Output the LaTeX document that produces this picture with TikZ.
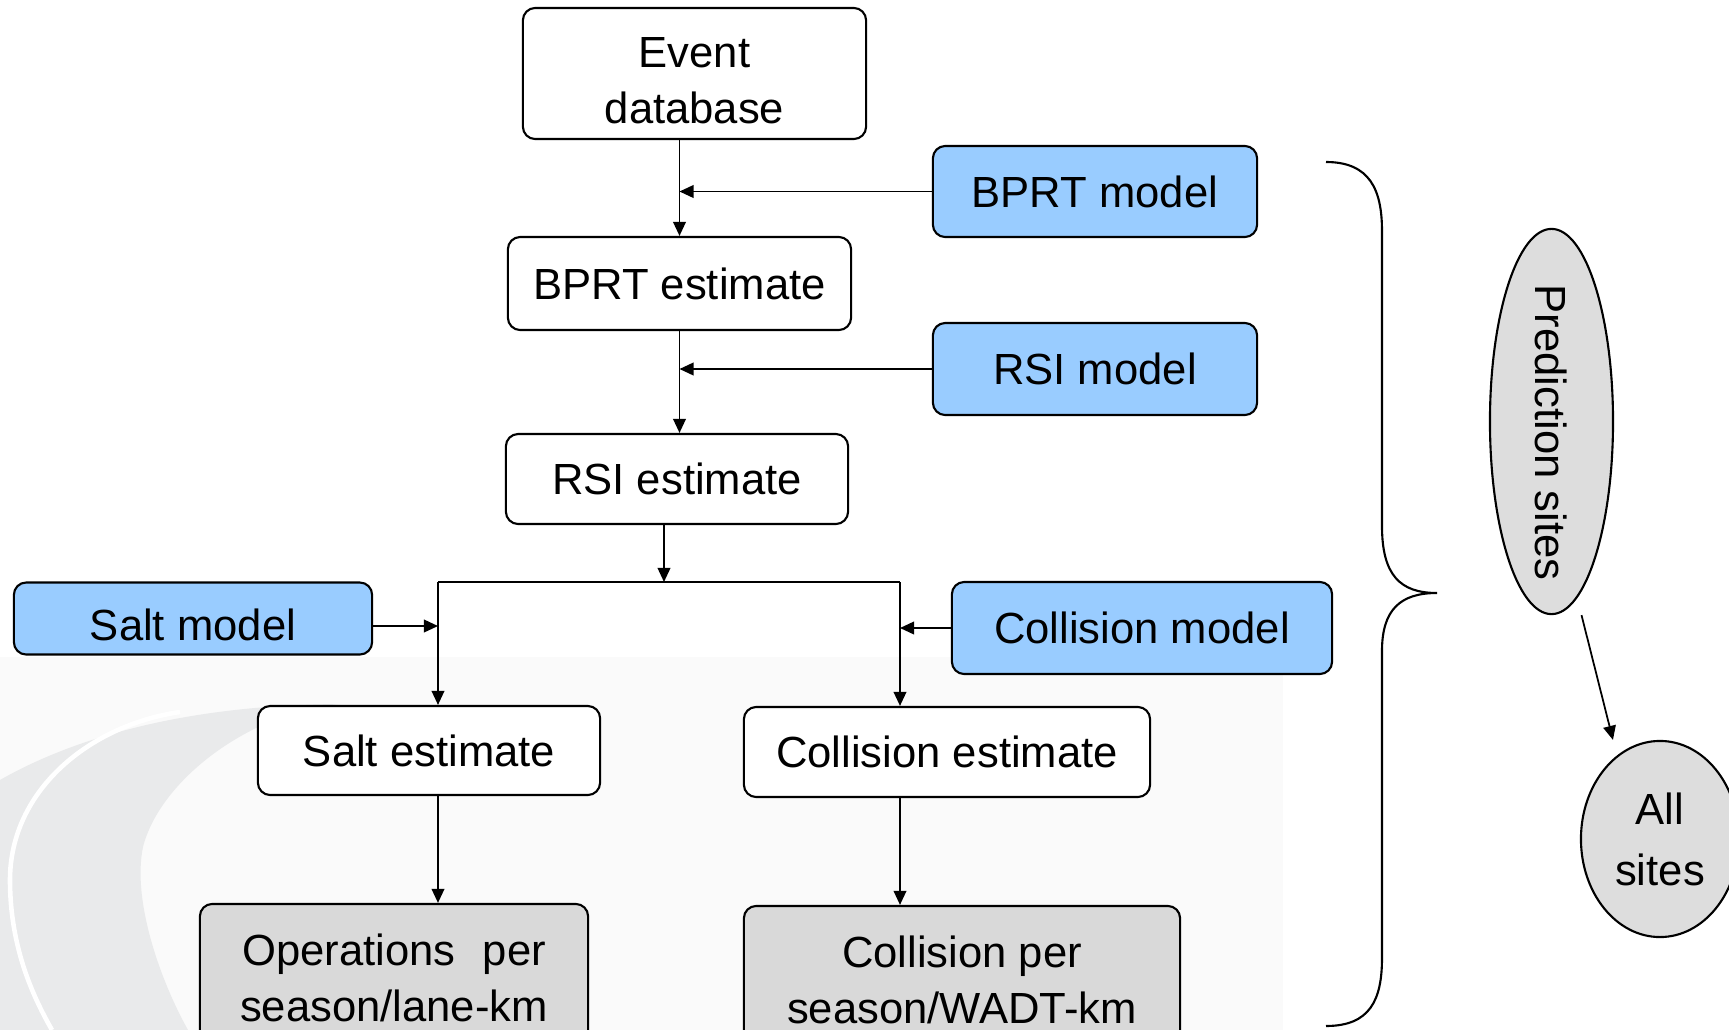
\documentclass[tikz,border=0pt]{standalone}
\usepackage{fontspec}
\setmainfont{Liberation Sans}
\usetikzlibrary{shapes.geometric,arrows.meta}
\definecolor{modelblue}{RGB}{153,204,255}
\definecolor{outgrey}{RGB}{217,217,217}
\definecolor{sitegrey}{RGB}{221,221,221}
\definecolor{swooshgrey}{RGB}{233,234,235}
\definecolor{panelgrey}{RGB}{250,250,250}
% invisible strut that lifts the top of a node's text block
\newcommand\tgap[1]{\rule{0pt}{#1}}
\begin{document}
\begin{tikzpicture}[x=0.01cm,y=-0.01cm,
  every node/.style={font=\fontsize{12.4}{16}\selectfont, align=center, inner sep=0pt},
  box/.style={draw, line width=0.6pt, rounded corners=3.5pt, fill=white},
  model/.style={box, fill=modelblue},
  result/.style={box, fill=outgrey},
  site/.style={ellipse, draw, line width=0.6pt, fill=sitegrey},
  link/.style={line width=0.5pt},
  arr/.style={link, -{Triangle[length=4pt,width=3.6pt]}}]

\useasboundingbox (0,0) rectangle (1729,1030);
\clip (0,0) rectangle (1729,1030);
\fill[white] (0,0) rectangle (1729,1030);

% pale backdrop with the road swoosh
\fill[panelgrey] (0,657) rectangle (1283,1030);
\fill[swooshgrey] (0,780) .. controls (70,740) and (180,705) .. (340,704)
  .. controls (250,712) and (160,780) .. (143,847)
  .. controls (132,900) and (160,980) .. (188,1030) -- (0,1030) -- cycle;
\draw[white, line width=1.3pt] (180,712) .. controls (90,725) and (10,790) .. (10,880)
  .. controls (10,950) and (35,1000) .. (52,1030);

% main chain
\node[box, minimum width=3.43cm, minimum height=1.31cm] (evt) at (694.5,73.5) {\tgap{0.445cm}Event\\database};
\node[model, minimum width=3.24cm, minimum height=0.91cm] (bprtmod) at (1095,191.5) {BPRT model};
\node[box, minimum width=3.43cm, minimum height=0.93cm] (bprtest) at (679.5,283.5) {BPRT estimate};
\node[model, minimum width=3.24cm, minimum height=0.92cm] (rsimod) at (1095,369) {RSI model};
\node[box, minimum width=3.42cm, minimum height=0.90cm] (rsiest) at (677,479) {RSI estimate};

% branches
\node[model, minimum width=3.58cm, minimum height=0.72cm] (saltmod) at (193,618.5) {\tgap{0.45cm}Salt model};
\node[model, minimum width=3.80cm, minimum height=0.92cm] (colmod) at (1142,628) {Collision model};
\node[box, minimum width=3.42cm, minimum height=0.89cm] (saltest) at (429,750.5) {Salt estimate};
\node[box, minimum width=4.06cm, minimum height=0.90cm] (colest) at (947,752) {Collision estimate};
\node[result, minimum width=3.88cm, minimum height=1.48cm] (ops) at (394,978) {Operations\hspace{0.35em} per\\season/lane-km};
\node[result, minimum width=4.36cm, minimum height=1.48cm] (colper) at (962,980) {Collision per\\season/WADT-km};

% sites (labels in zero-width boxes so the ellipses keep their set size)
\node[site, minimum width=3.85cm, minimum height=1.23cm, rotate=-90] (pred) at (1551.5,421.5) {\makebox[0pt]{\hspace{0.22cm}Prediction sites}};
\node[site, minimum width=1.58cm, minimum height=1.96cm] (all) at (1660,839) {\makebox[0pt]{\shortstack{All\\[0.19cm]sites}}};

% connectors
\coordinate (split) at (664,582);
\coordinate (lbr) at (438,582);
\coordinate (rbr) at (900,582);

\draw[arr] (evt.south -| bprtest.north) -- (bprtest.north);
\draw[arr] (bprtmod.west) -- (bprtmod.west -| bprtest.north);
\draw[arr] (bprtest.south) -- (rsiest.north -| bprtest.south);
\draw[arr] (rsimod.west) -- (rsimod.west -| bprtest.south);
\draw[arr] (rsiest.south -| split) -- (split);
\draw[link] (lbr) -- (rbr);
\draw[arr] (lbr) -- (lbr |- saltest.north);
\draw[arr] (rbr) -- (rbr |- colest.north);
\draw[arr] ([yshift=-0.075cm]saltmod.east) -- ([yshift=-0.075cm]saltmod.east -| lbr);
\draw[arr] (colmod.west) -- (colmod.west -| rbr);
\draw[arr] (saltest.south -| lbr) -- (ops.north -| lbr);
\draw[arr] (colest.south -| rbr) -- (colper.north -| rbr);
\draw[arr] ([xshift=0.3cm]pred.east) -- ([xshift=-0.47cm]all.north);

% brace grouping the prediction steps
\draw[line width=0.6pt] (1326,162) .. controls (1370,162) and (1382,190) .. (1382,231)
  -- (1382,526) .. controls (1382,575) and (1400,593) .. (1437,593)
  .. controls (1400,593) and (1382,610) .. (1382,651)
  -- (1382,958) .. controls (1382,1000) and (1370,1026) .. (1326,1026);
\end{tikzpicture}
\end{document}
